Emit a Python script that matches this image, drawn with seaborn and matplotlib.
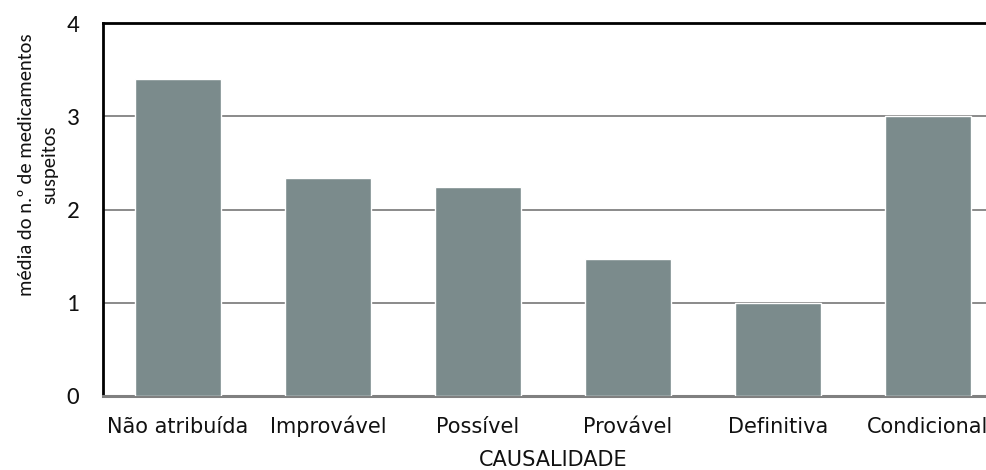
import matplotlib
matplotlib.use("Agg")
import matplotlib.pyplot as plt
import seaborn as sns
import pandas as pd

categorias = ["Não atribuída", "Improvável", "Possível", "Provável", "Definitiva", "Condicional"]
media_medicamentos = [3.40, 2.34, 2.24, 1.47, 1.0, 3.0]
y_ticks = [0, 1, 2, 3, 4]

df = pd.DataFrame({"causalidade": categorias, "media": media_medicamentos})

sns.set_theme(style="white")
plt.rcParams["font.family"] = ["DejaVu Sans"]

fig = plt.figure(figsize=(9.87, 4.70), dpi=100)
# plot area runs a little past the right edge of the canvas
ax = fig.add_axes([103 / 987, 1 - 396 / 470, 900 / 987, 373 / 470])

sns.barplot(data=df, x="causalidade", y="media", color="#7b8b8c",
            width=0.567, saturation=1, ax=ax, zorder=3)

ax.set_xlim(-0.5, 5.5)
ax.set_ylim(0, 4)
ax.set_yticks(y_ticks)
ax.set_yticklabels([str(t) for t in y_ticks], fontfamily=["Carlito", "Liberation Sans"],
                   fontsize=18, color="#111111")
ax.yaxis.grid(True, color="#8a8a8a", linewidth=1.4, zorder=0)
ax.set_axisbelow(True)
ax.tick_params(axis="both", length=0)
ax.tick_params(axis="y", pad=17)
ax.tick_params(axis="x", pad=26.5, labelsize=15, labelcolor="#111111")

# keep all category names on a common baseline
for lbl in ax.get_xticklabels():
    lbl.set_fontfamily("DejaVu Sans")
    lbl.set_verticalalignment("baseline")

ax.set_xlabel("CAUSALIDADE", fontsize=15, fontfamily="DejaVu Sans", labelpad=9.5, color="#111111")
ax.set_ylabel("média do n.º de medicamentos\nsuspeitos", fontsize=14.8,
              fontfamily=["Carlito", "Liberation Sans"], labelpad=6, linespacing=1.45,
              y=0.62, color="#111111")

for side in ["left", "top"]:
    ax.spines[side].set_color("black")
    ax.spines[side].set_linewidth(2)
ax.spines["bottom"].set_color("#808080")
ax.spines["bottom"].set_linewidth(2.2)
ax.spines["right"].set_visible(False)

fig.savefig("out.png", dpi=100)
